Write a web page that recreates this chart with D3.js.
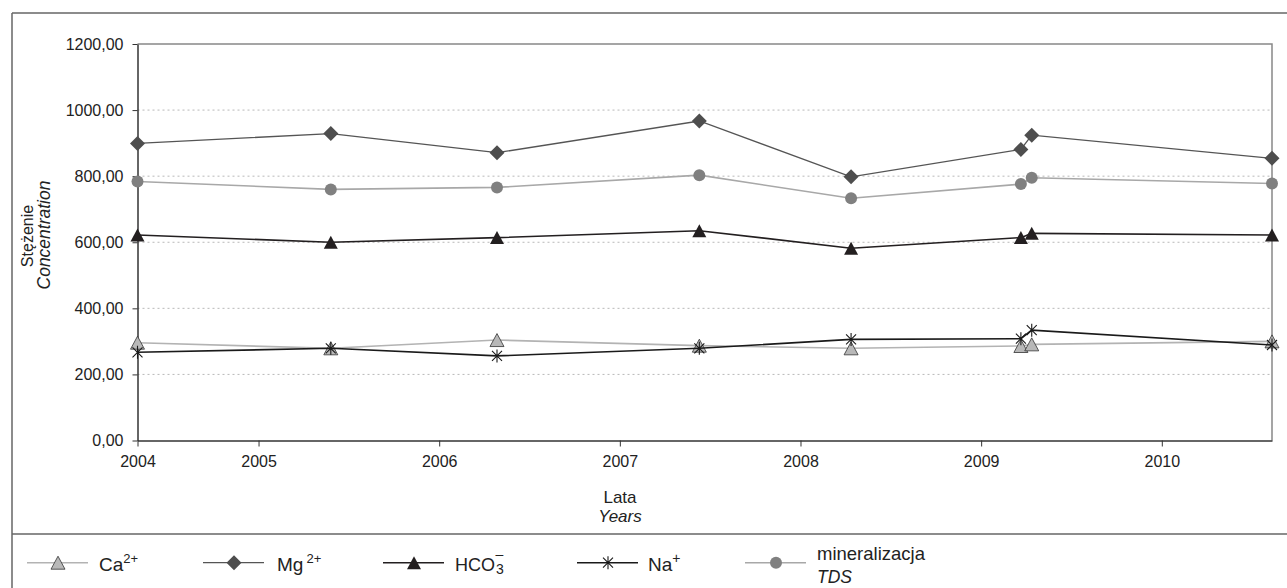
<!DOCTYPE html>
<html lang="pl">
<head>
  <meta charset="UTF-8">
  <title>Stężenie</title>
  <script src="https://d3js.org/d3.v7.min.js"></script>
  <style>
    body { margin: 0; background: #fff; }
    svg { display: block; font-family: "Liberation Sans", Arial, sans-serif; }
    .axis text { fill: #222; font-size: 16px; }
    .axis path, .axis line { stroke: #333; }
    .grid line { stroke: #b8b8b8; stroke-dasharray: 2,3; }
  </style>
</head>
<body>
  <div id="chart"></div>
  <script>
    // data (decimal years)
    const dates = [2004.33, 2005.40, 2006.32, 2007.44, 2008.28, 2009.22, 2009.28, 2010.61];
    const ca   = [296, 279, 304, 287, 279, 286, 291, 300];
    const mg   = [899, 929, 871, 967, 798, 881, 924, 854];
    const hco3 = [622, 600, 614, 635, 582, 614, 627, 622];
    const na   = [267, 279, 256, 279, 306, 308, 334, 289];
    const tds  = [784, 760, 766, 803, 733, 776, 795, 778];

    const yTicks = [0, 200, 400, 600, 800, 1000, 1200];
    const xTicks = [2004.33, 2005, 2006, 2007, 2008, 2009, 2010];

    const width = 1287, height = 588;
    const plotLeft = 137.5, plotRight = 1272, plotTop = 44, plotBottom = 440.5;

    const svg = d3.select("#chart").append("svg")
      .attr("width", width)
      .attr("height", height);

    // outer frame
    const frame = svg.append("g").attr("stroke", "#666").attr("stroke-width", 1.5);
    frame.append("line").attr("x1", 12).attr("y1", 13).attr("x2", width).attr("y2", 13);
    frame.append("line").attr("x1", 12).attr("y1", 13).attr("x2", 12).attr("y2", height);
    frame.append("line").attr("x1", 12).attr("y1", 534).attr("x2", width).attr("y2", 534);

    const x = d3.scaleLinear().domain([dates[0], dates[dates.length - 1]]).range([plotLeft, plotRight]);
    const y = d3.scaleLinear().domain([0, 1200]).range([plotBottom, plotTop]);

    // grid
    svg.append("g").attr("class", "grid")
      .selectAll("line")
      .data(yTicks.filter(d => d > 0 && d < 1200))
      .join("line")
      .attr("x1", plotLeft).attr("x2", plotRight)
      .attr("y1", d => y(d)).attr("y2", d => y(d));

    // plot frame top / right
    svg.append("path")
      .attr("d", `M${plotLeft},${plotTop}H${plotRight}V${plotBottom}`)
      .attr("fill", "none").attr("stroke", "#888").attr("stroke-width", 1.5);

    const fmt = d => d3.format(".2f")(d).replace(".", ",");

    svg.append("g").attr("class", "axis")
      .attr("transform", `translate(${plotLeft},0)`)
      .call(d3.axisLeft(y).tickValues(yTicks).tickFormat(fmt).tickSize(5).tickPadding(9).tickSizeOuter(0))
      .call(g => g.select(".domain").attr("stroke-width", 1.5));

    svg.append("g").attr("class", "axis")
      .attr("transform", `translate(0,${plotBottom})`)
      .call(d3.axisBottom(x).tickValues(xTicks).tickFormat(d => Math.floor(d)).tickSize(6).tickPadding(11).tickSizeOuter(0))
      .call(g => g.select(".domain").attr("stroke-width", 1.5))
      .call(g => g.selectAll("text").attr("dy", "0.6em"));

    svg.selectAll(".axis").attr("font-size", null).attr("font-family", null);

    // axis titles
    svg.append("text").attr("x", 620).attr("y", 503).attr("text-anchor", "middle")
      .attr("font-size", 17).attr("fill", "#222").text("Lata");
    svg.append("text").attr("x", 620).attr("y", 522).attr("text-anchor", "middle")
      .attr("font-size", 17).attr("font-style", "italic").attr("fill", "#222").text("Years");
    svg.append("text").attr("transform", "translate(33,236) rotate(-90)").attr("text-anchor", "middle")
      .attr("font-size", 16).attr("fill", "#222").text("Stężenie");
    svg.append("text").attr("transform", "translate(50,235) rotate(-90)").attr("text-anchor", "middle")
      .attr("font-size", 17.5).attr("font-style", "italic").attr("fill", "#222").text("Concentration");

    // marker shapes
    const triangle = { draw(c) { const w = 7, h = 6.5; c.moveTo(0, -h); c.lineTo(w, h); c.lineTo(-w, h); c.closePath(); } };
    const diamond = { draw(c) { const r = 7.5; c.moveTo(0, -r); c.lineTo(r, 0); c.lineTo(0, r); c.lineTo(-r, 0); c.closePath(); } };
    const circle = { draw(c) { c.moveTo(6, 0); c.arc(0, 0, 6, 0, 2 * Math.PI); } };
    const star = { draw(c) { const r = 6.5, q = 5; c.moveTo(0, -r); c.lineTo(0, r); c.moveTo(-q, -q); c.lineTo(q, q); c.moveTo(-q, q); c.lineTo(q, -q); } };

    const series = [
      { name: "ca",   values: ca,   line: "#b3b3b3", width: 1.6, shape: triangle, fill: "#b8b8b8", stroke: "#333", sw: 0.8 },
      { name: "mg",   values: mg,   line: "#555",    width: 1.3, shape: diamond,  fill: "#4e4e4e", stroke: "none", sw: 0 },
      { name: "hco3", values: hco3, line: "#231f20", width: 1.6, shape: triangle, fill: "#231f20", stroke: "none", sw: 0 },
      { name: "na",   values: na,   line: "#1a1a1a", width: 1.6, shape: star,     fill: "none",    stroke: "#1a1a1a", sw: 1.1 },
      { name: "tds",  values: tds,  line: "#a8a8a8", width: 1.6, shape: circle,   fill: "#808080", stroke: "none", sw: 0 }
    ];

    const line = d3.line().x(d => x(d[0])).y(d => y(d[1]));

    series.forEach(s => {
      const pts = dates.map((d, i) => [d, s.values[i]]);
      svg.append("path").datum(pts)
        .attr("fill", "none").attr("stroke", s.line).attr("stroke-width", s.width)
        .attr("d", line);
      svg.append("g").selectAll("path").data(pts).join("path")
        .attr("transform", d => `translate(${x(d[0])},${y(d[1])})`)
        .attr("d", d3.symbol().type(s.shape))
        .attr("fill", s.fill).attr("stroke", s.stroke).attr("stroke-width", s.sw);
    });

    // legend
    const legendX = [27, 203, 383, 577, 745];
    const legendY = 562.7;
    const lg = svg.append("g");
    series.forEach((s, i) => {
      const x0 = legendX[i];
      lg.append("line").attr("x1", x0).attr("x2", x0 + 61).attr("y1", legendY).attr("y2", legendY)
        .attr("stroke", s.line).attr("stroke-width", s.width);
      lg.append("path").attr("transform", `translate(${x0 + 31},${legendY})`)
        .attr("d", d3.symbol().type(s.shape))
        .attr("fill", s.fill).attr("stroke", s.stroke).attr("stroke-width", s.sw);
    });

    const lab = (xp, yp, txt, size, italic) => lg.append("text").attr("x", xp).attr("y", yp)
      .attr("font-size", size).attr("font-style", italic ? "italic" : null).attr("fill", "#222").text(txt);

    let t = lab(99, 571, "Ca", 19);
    t.append("tspan").attr("font-size", 13).attr("dy", -8).text("2+");
    t = lab(277, 571, "Mg", 19);
    t.append("tspan").attr("font-size", 13).attr("dy", -8).attr("dx", 3).text("2+");
    t = lab(455, 571, "HCO", 18);
    const hx = 455 + t.node().getComputedTextLength() + 1;
    lab(hx, 574, "3", 14);
    lab(hx - 0.5, 559, "\u2013", 14);
    t = lab(648, 571, "Na", 19);
    t.append("tspan").attr("font-size", 14).attr("dy", -8).text("+");
    lab(817, 560, "mineralizacja", 18.5);
    lab(817, 583, "TDS", 17.5, true);
  </script>
</body>
</html>
